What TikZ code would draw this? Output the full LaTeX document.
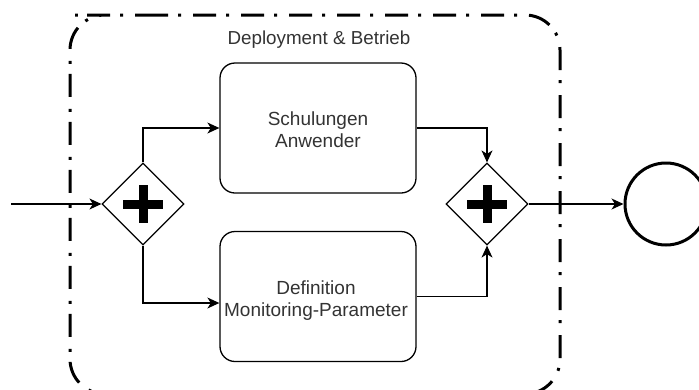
\documentclass[tikz,border=0pt]{standalone}
\usepackage{fontspec}
\setmainfont{Liberation Sans}
\usetikzlibrary{shapes.geometric,arrows.meta}
\definecolor{txtgrey}{RGB}{51,51,51}
\tikzset{
  flow/.style={line width=1.2pt,-{Stealth[length=12pt,width=11pt,inset=3.5pt]}},
  taskbox/.style={draw,line width=1.3pt,rounded corners=15pt,minimum width=196pt,minimum height=130pt,inner sep=0pt},
  tasktext/.style={align=center,text=txtgrey,font=\fontsize{19}{22}\selectfont,inner sep=0pt},
  gateway/.style={diamond,draw,line width=1.2pt,minimum width=82pt,minimum height=82pt,inner sep=0pt},
  endevent/.style={circle,draw,line width=3pt,minimum size=82pt,inner sep=0pt},
  groupframe/.style={line width=3pt,rounded corners=35pt,dash pattern=on 23pt off 10pt on 3pt off 12pt}
}
\begin{document}
\begin{tikzpicture}[x=1pt,y=-1pt]
  \useasboundingbox (0,0) rectangle (699,389);
  \clip (0,0) rectangle (699,389);

  % group frame (continues below the lower edge)
  \draw[groupframe] (110,15) -- (560,15) -- (560,394) -- (70,394) -- (70,15) -- cycle;
  \node[text=txtgrey,font=\fontsize{18.8}{22}\selectfont,anchor=base,inner sep=0pt] (grouplabel) at (319,44) {Deployment \& Betrieb};

  % tasks
  \node[taskbox] (t1) at (318,128) {};
  \node[taskbox] (t2) at (318,296.5) {};
  \node[tasktext] (t1txt) at (318,129.5) {Schulungen\\Anwender};
  \node[tasktext] (t2txt) at (316,301) {Definition\\Monitoring-Parameter};

  % parallel gateways
  \node[gateway] (g1) at (143,204) {};
  \node[gateway] (g2) at (487,204) {};
  \foreach \g in {g1,g2}{
    \fill ([shift={(-20,-4.5)}]\g.center) rectangle ([shift={(20,4.5)}]\g.center);
    \fill ([shift={(-4.5,-19)}]\g.center) rectangle ([shift={(4.5,19)}]\g.center);
  }

  % end event
  \node[endevent] (end) at (666,204) {};

  % sequence flows
  \coordinate (start) at (11,204);
  \draw[flow] (start) -- (g1.west);
  \draw[flow] (g1.north) |- (t1.west);
  \draw[flow] (g1.south) |- ([yshift=-6.5pt]t2.west);
  \draw[flow] (t1.east) -| (g2.north);
  \draw[flow] (t2.east) -| (g2.south);
  \draw[flow] (g2.east) -- (end.west);
\end{tikzpicture}
\end{document}
